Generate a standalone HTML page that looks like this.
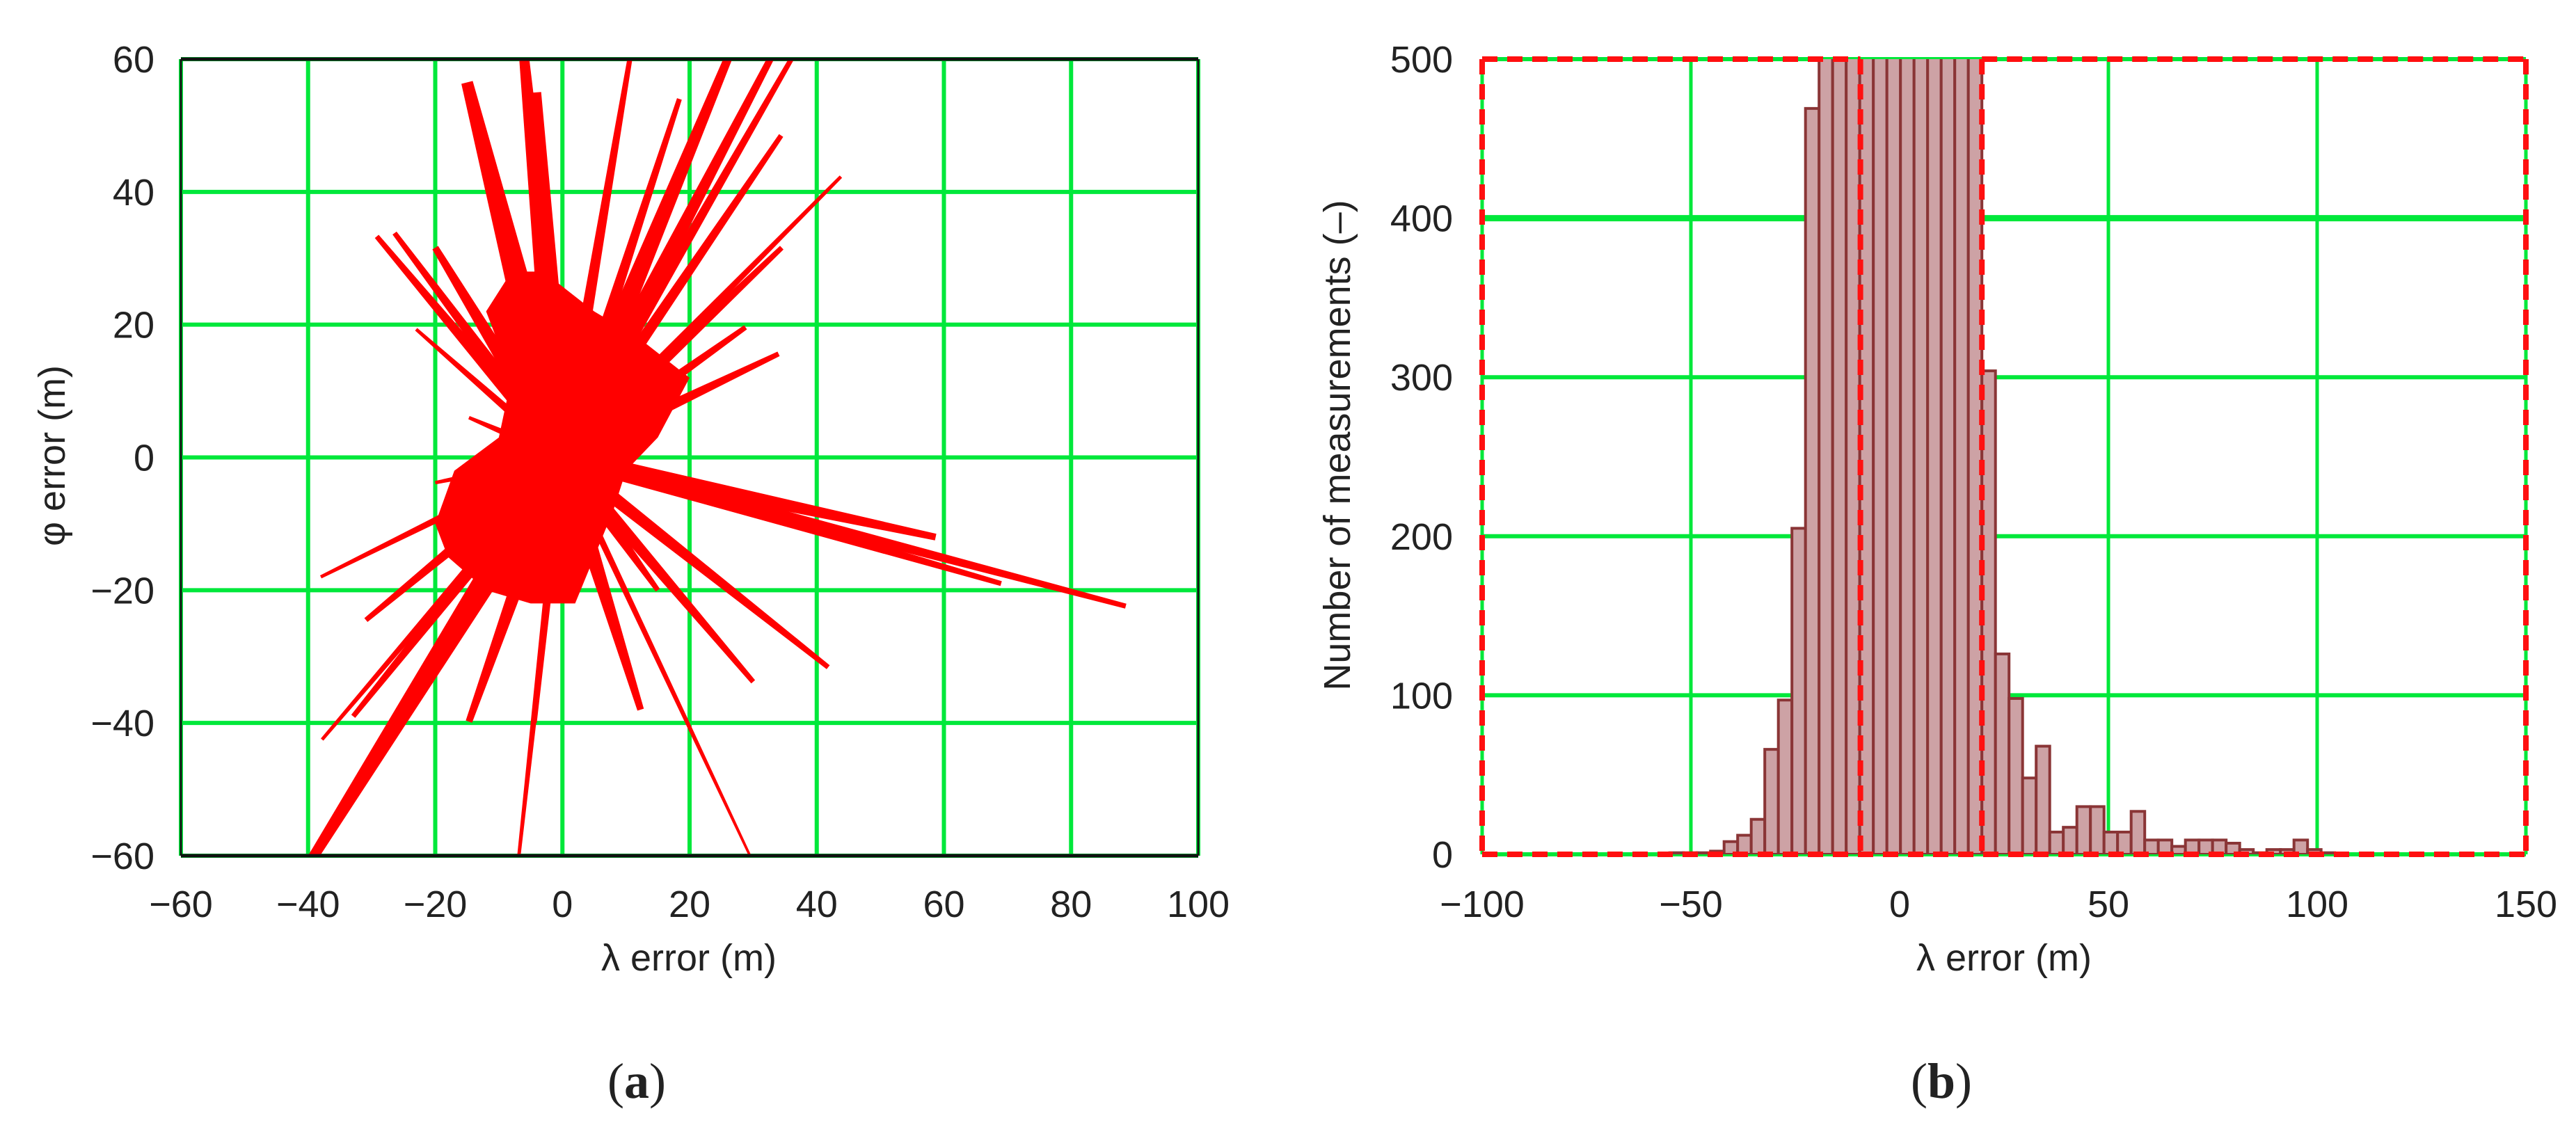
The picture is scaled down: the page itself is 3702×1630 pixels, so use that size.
<!DOCTYPE html>
<html><head><meta charset="utf-8"><style>
html,body{margin:0;padding:0;background:#fff;}
svg{display:block;}
text{font-family:"Liberation Sans",Arial,sans-serif;fill:#222;}
</style></head><body>
<svg id="fig" width="3702" height="1630" viewBox="0 0 3702 1630" xmlns="http://www.w3.org/2000/svg">
<rect x="0" y="0" width="3702" height="1630" fill="#fff"/>
<g id="chartA"></g>
<g id="chartB"></g>
<text x="915" y="1578" font-size="72" text-anchor="middle" style="font-family:'Liberation Serif',serif">(<tspan font-weight="bold">a</tspan>)</text>
<text x="2790" y="1578" font-size="72" text-anchor="middle" style="font-family:'Liberation Serif',serif">(<tspan font-weight="bold">b</tspan>)</text>
</svg>
<script>
// ---------- Chart A data ----------
const aXTicks = [-60,-40,-20,0,20,40,60,80,100];
const aYTicks = [-60,-40,-20,0,20,40,60];
const spokeEndX = [-6,-4,10.6,26,32.7,36,43.8,34.4,18.4,-15,-10.8,-29.2,-26.4,-20,-23,34,28.8,34.5,-38,-30.9,-37.8,-39.4,-32.9,-14.7,-6.9,-4.3,12.3,29.5,30,41.8,58.7,88.6,69,-14.7,-20,22,15];
const spokeEndY = [60,55,60,60,60,60,42.3,48.5,54,56.5,43,33.3,33.8,31.6,19.3,15.6,19.6,31.6,-18,-24.5,-42.5,-60.5,-39,-39.8,-60.5,-40,-38,-60,-33.8,-31.6,-12,-22.4,-19,6,-3.8,-25,-20];
const spokeWidth = [6,5,3,5,4,3,2,3,3,7,4,3,3,4,2,3,3,3,2,3,2,6,3,4,2,2,4,1.5,3,3,4,3,3,2,2,3,3];
const blobX = [-3,5,12,20,15,10,8,5,2,-5,-12,-18,-20,-17,-10,-8,-12,-8];
const blobY = [28,22,18,12,3,-2,-8,-15,-22,-22,-20,-15,-10,-2,3,12,22,28];

// ---------- Chart B data ----------
const bXTicks = [-100,-50,0,50,100,150];
const bYTicks = [0,100,200,300,400,500];
const binLeft = [-55.05,-51.8,-48.55,-45.3,-42.05,-38.8,-35.55,-32.3,-29.05,-25.8,-22.55,-19.3,-16.05,-12.8,-9.55,-6.3,-3.05,0.2,3.45,6.7,9.95,13.2,16.45,19.7,22.95,26.2,29.45,32.7,35.95,39.2,42.45,45.7,48.95,52.2,55.45,58.7,61.95,65.2,68.45,71.7,74.95,78.2,81.45,84.7,87.95,91.2,94.45,97.7,100.95];
const binCount = [1,1,1,2,8,12,22,66,97,205,469,900,1000,1000,1000,1000,1000,1000,1000,1000,1000,1000,1000,304,126,98,48,68,14,17,30,30,14,14,27,9,9,5,9,9,9,7,3,1,3,3,9,3,1];
const binWidth = 3.25;

const NS='http://www.w3.org/2000/svg';
function mk(tag, attrs, parent){const e=document.createElementNS(NS,tag);for(const k in attrs)e.setAttribute(k,attrs[k]);parent.appendChild(e);return e;}

// ---------- Chart A ----------
(function(){
const g=document.getElementById('chartA');
const L=260,R=1722,T=85,B=1230;
const sx=v=>L+(v+60)/160*(R-L), sy=v=>B-(v+60)/120*(B-T);
const clipDef=mk('defs',{},g);
const cp=mk('clipPath',{id:'clipA'},clipDef);
mk('rect',{x:L,y:T,width:R-L,height:B-T},cp);
aXTicks.forEach(v=>{const l=mk('line',{x1:sx(v),x2:sx(v),y1:T,y2:B,stroke:'#00e83a','stroke-width':6},g);

});
aYTicks.forEach(v=>{const l=mk('line',{x1:L,x2:R,y1:sy(v),y2:sy(v),stroke:'#00e83a','stroke-width':6},g);

});
const marks=mk('g',{'clip-path':'url(#clipA)'},g);
const blob=mk('polygon',{points:blobX.map((x,i)=>sx(x)+','+sy(blobY[i])).join(' '),fill:'#ff0000'},marks);


spokeEndX.forEach((x,i)=>{
  const x0=sx(0),y0=sy(0),x1=sx(x),y1=sy(spokeEndY[i]);
  const dx=x1-x0,dy=y1-y0,len=Math.hypot(dx,dy);const nx=-dy/len,ny=dx/len;
  const w0=spokeWidth[i]*3.5,w1=spokeWidth[i]*1.2;
  const p=mk('polygon',{points:[[x0+nx*w0,y0+ny*w0],[x1+nx*w1,y1+ny*w1],[x1-nx*w1,y1-ny*w1],[x0-nx*w0,y0-ny*w0]].map(q=>q.join(',')).join(' '),fill:'#ff0000'},marks);
  
  
});
mk('line',{x1:L,x2:R,y1:T,y2:T,stroke:'#111','stroke-width':5},g);
mk('line',{x1:L,x2:R,y1:B,y2:B,stroke:'#111','stroke-width':5},g);
mk('line',{x1:L,x2:L,y1:T,y2:B,stroke:'#111','stroke-width':3},g);
mk('line',{x1:R,x2:R,y1:T,y2:B,stroke:'#111','stroke-width':3},g);
aXTicks.forEach(v=>{const t=mk('text',{x:sx(v),y:1318,'font-size':54,'text-anchor':'middle'},g);t.textContent=(v<0?'\u2212'+(-v):v);

});
aYTicks.forEach(v=>{const t=mk('text',{x:222,y:sy(v)+19,'font-size':54,'text-anchor':'end'},g);t.textContent=(v<0?'\u2212'+(-v):v);

});
const xt=mk('text',{x:990,y:1395,'font-size':54,'text-anchor':'middle'},g);xt.textContent='\u03bb error (m)';


const yt=mk('text',{x:0,y:0,'font-size':54,'text-anchor':'middle',transform:'translate(93,655) rotate(-90)'},g);yt.textContent='\u03c6 error (m)';


})();

// ---------- Chart B ----------
(function(){
const g=document.getElementById('chartB');
const L=2130,R=3630,T=85,B=1228;
const sx=v=>L+(v+100)/250*(R-L), sy=v=>B-v/500*(B-T);
const defs=mk('defs',{},g);
const cp=mk('clipPath',{id:'clipB'},defs);
mk('rect',{x:L,y:T,width:R-L,height:B-T},cp);
bXTicks.forEach(v=>{const l=mk('line',{x1:sx(v),x2:sx(v),y1:T,y2:B,stroke:'#00e83a','stroke-width':5},g);

});
bYTicks.forEach(v=>{const l=mk('line',{x1:L,x2:R,y1:sy(v),y2:sy(v),stroke:'#00e83a','stroke-width':v===400?9:6},g);

});
const bars=mk('g',{'clip-path':'url(#clipB)'},g);
binLeft.forEach((x,i)=>{const c=binCount[i];if(c<=0)return;
  const r=mk('rect',{x:sx(x),y:sy(c),width:sx(x+binWidth)-sx(x),height:B-sy(c),fill:'#cda2a5',stroke:'#8a3536','stroke-width':4},bars);
  
  });
const dash={stroke:'#ff1010','stroke-width':8,'stroke-dasharray':'22 14',fill:'none'};
const xa=sx(-9.4),xb=sx(19.7);
[[L,T,xa,T],[xb,T,R,T],[L,B,R,B],[L,T,L,B],[R,T,R,B],[xa,T,xa,B],[xb,T,xb,B]].forEach(s=>{
  const l=mk('line',Object.assign({x1:s[0],y1:s[1],x2:s[2],y2:s[3]},dash),g);
  
  });
bXTicks.forEach(v=>{const t=mk('text',{x:sx(v),y:1318,'font-size':54,'text-anchor':'middle'},g);t.textContent=(v<0?'\u2212'+(-v):v);

});
bYTicks.forEach(v=>{const t=mk('text',{x:2088,y:sy(v)+19,'font-size':54,'text-anchor':'end'},g);t.textContent=v;

});
const xt=mk('text',{x:2880,y:1395,'font-size':54,'text-anchor':'middle'},g);xt.textContent='\u03bb error (m)';


const yt=mk('text',{x:0,y:0,'font-size':54,'text-anchor':'middle',transform:'translate(1940,640) rotate(-90)'},g);yt.textContent='Number of measurements (\u2013)';


})();
</script>
</body></html>
